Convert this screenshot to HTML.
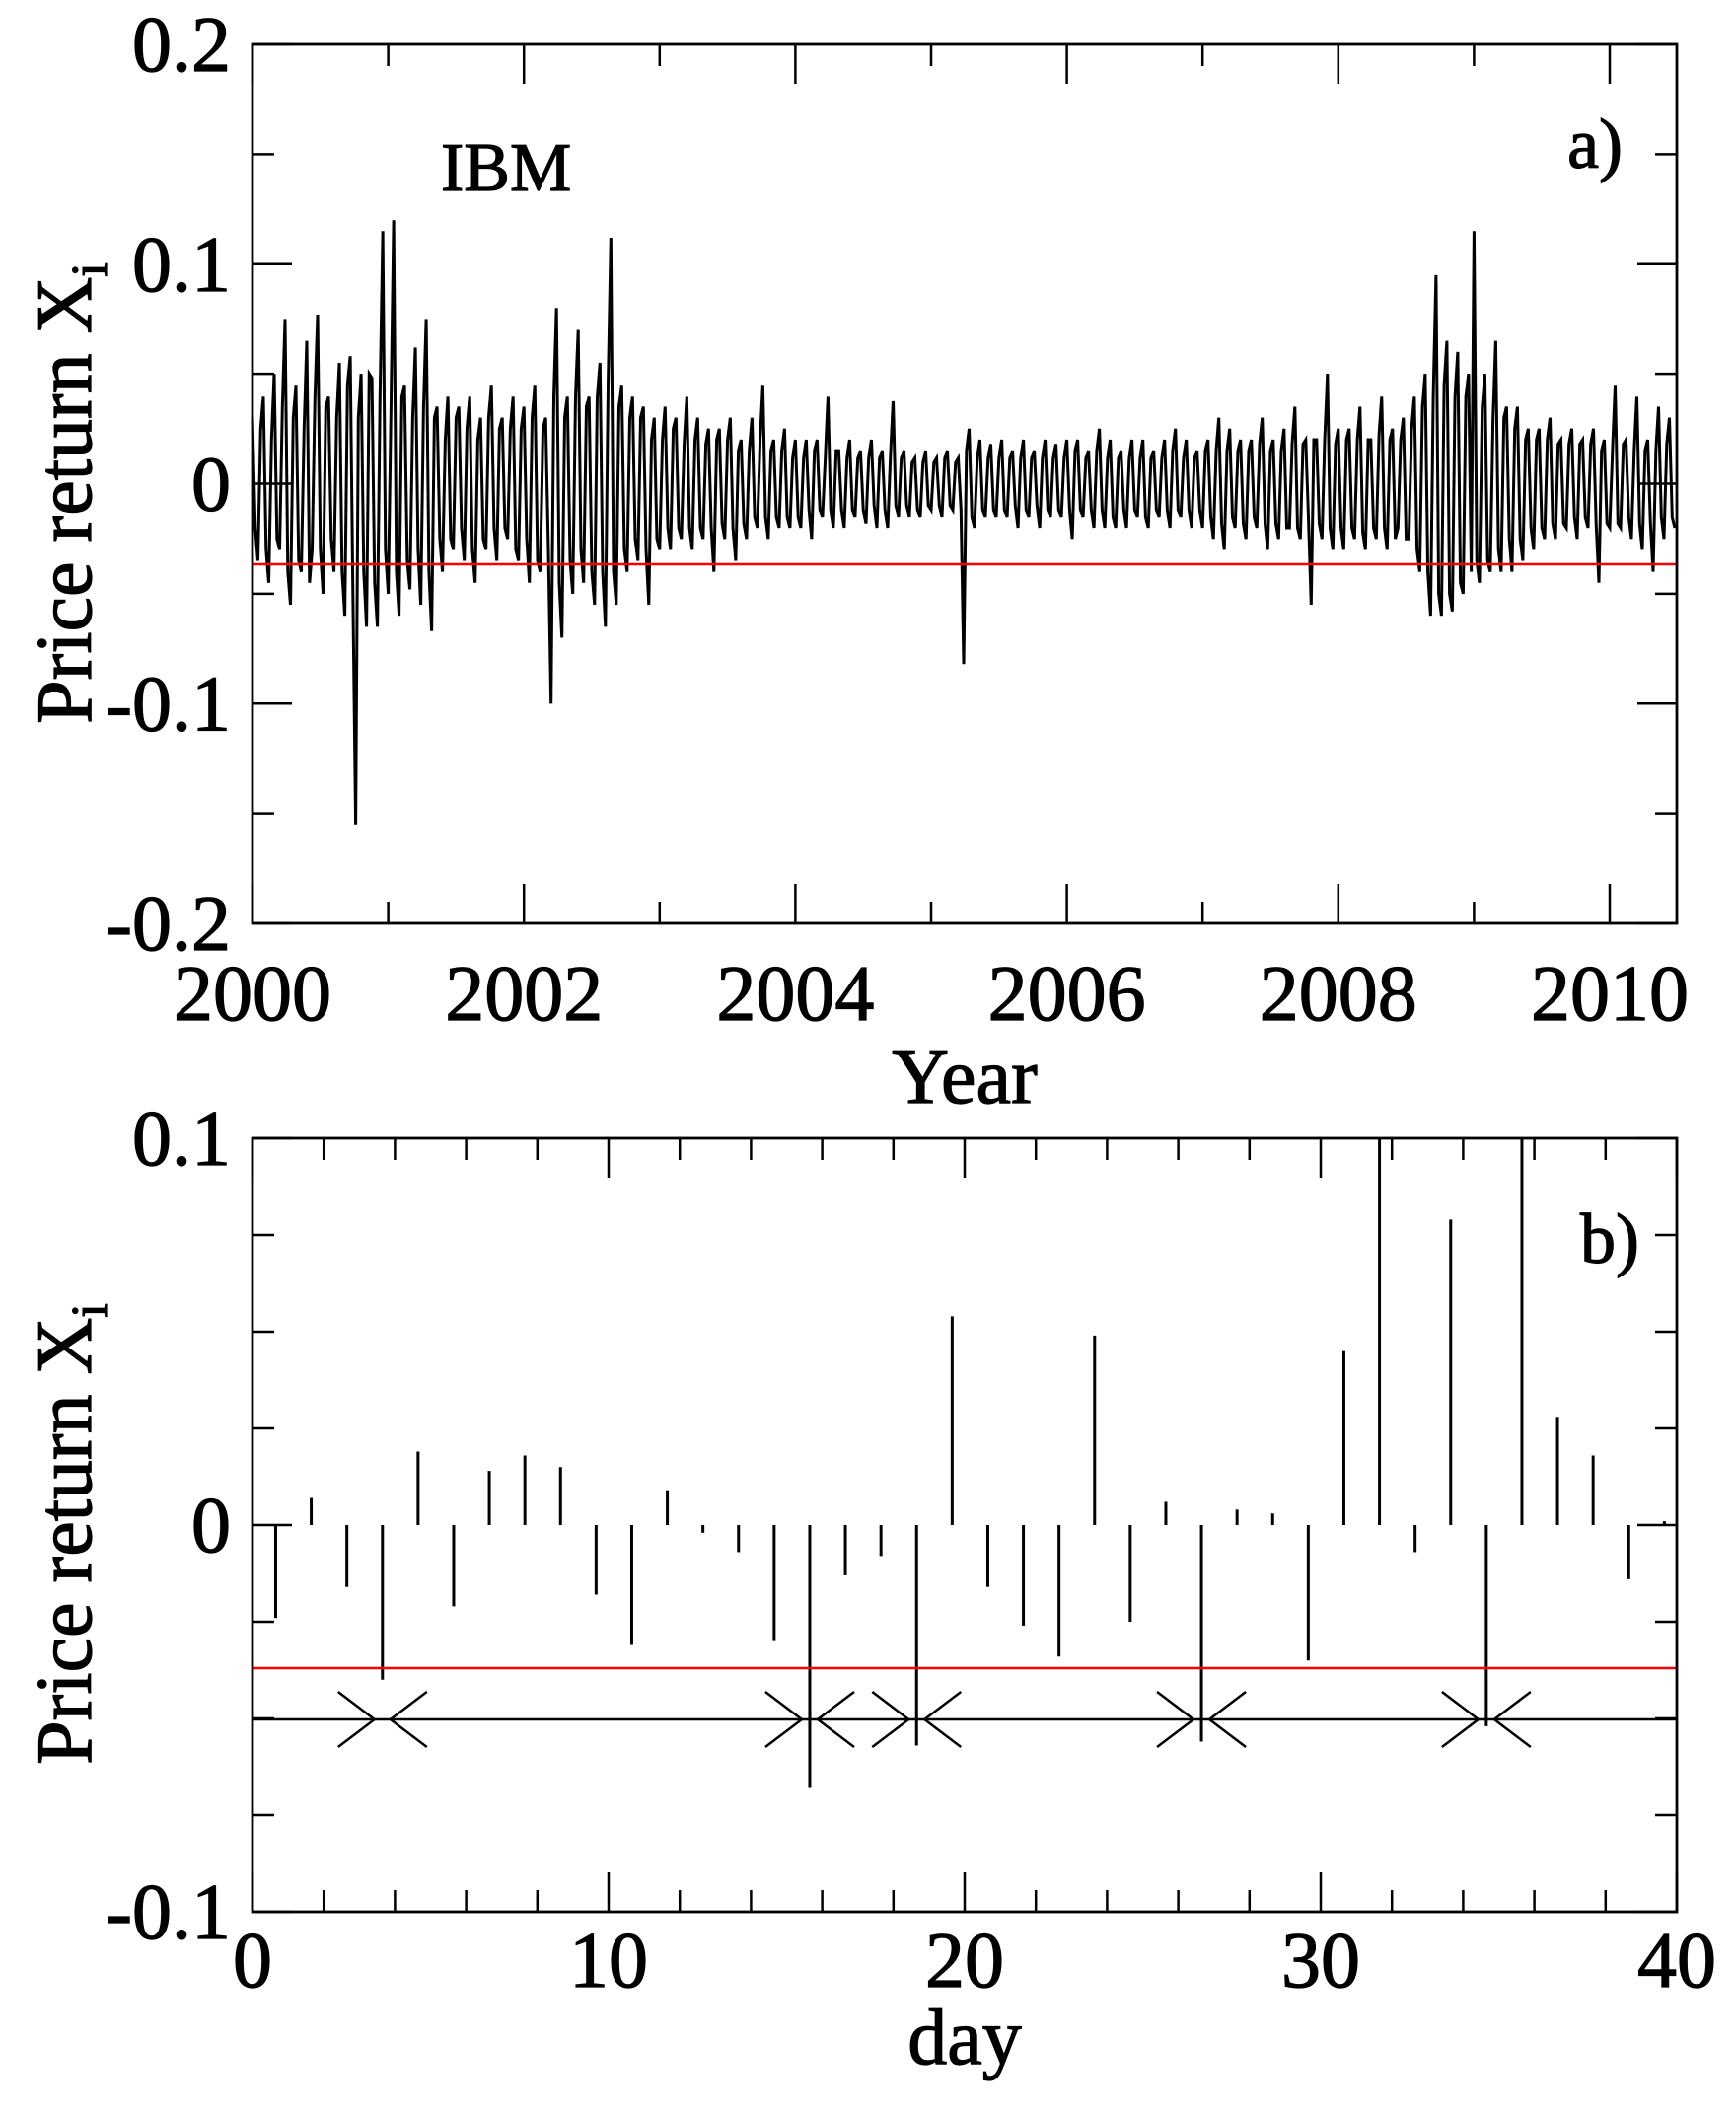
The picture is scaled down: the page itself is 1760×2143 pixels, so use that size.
<!DOCTYPE html>
<html><head><meta charset="utf-8"><style>
html,body{margin:0;padding:0;background:#fff}
svg{display:block}
text{font-family:"Liberation Serif",serif;fill:#000;stroke:#000;stroke-width:1.2}
</style></head><body>
<svg id="chart" width="1760" height="2143" viewBox="0 0 1760 2143" xmlns="http://www.w3.org/2000/svg">
<g id="pa"></g>
<g id="pb"></g>
</svg>
<script>
// Panel a data: IBM price returns; main samples every 0.04 year, plus intermediate samples between them
const aStartYear = 2000;
const aStepYear = 0.04;
const aReturns = [
0.03,-0.035,0.04,-0.045,0.05,-0.03,0.075,-0.055,0.045,-0.04,0.065,-0.03,0.077,-0.05,0.04,-0.04,0.055,-0.06,0.058,-0.155,0.05,-0.065,0.048,-0.065,0.115,
-0.05,0.12,-0.06,0.045,-0.048,0.062,-0.055,0.075,-0.067,0.035,-0.04,0.04,-0.03,0.035,-0.035,0.04,-0.045,0.03,-0.03,0.045,-0.035,0.03,-0.025,0.04,-0.035,
0.035,-0.045,0.045,-0.04,0.03,-0.1,0.08,-0.07,0.04,-0.05,0.07,-0.045,0.04,-0.055,0.055,-0.065,0.112,-0.055,0.045,-0.04,0.04,-0.035,0.035,-0.055,0.03,
-0.03,0.035,-0.03,0.03,-0.025,0.04,-0.03,0.03,-0.025,0.025,-0.04,0.025,-0.025,0.03,-0.035,0.02,-0.025,0.03,-0.02,0.045,-0.025,0.02,-0.02,0.025,-0.02,
0.02,-0.02,0.02,-0.025,0.02,-0.015,0.04,-0.02,0.015,-0.02,0.02,-0.015,0.015,-0.018,0.02,-0.02,0.015,-0.02,0.038,-0.015,0.015,-0.015,0.012,-0.015,0.015,
-0.012,0.012,-0.015,0.015,-0.012,0.012,-0.082,0.025,-0.02,0.02,-0.015,0.018,-0.015,0.02,-0.015,0.015,-0.02,0.02,-0.015,0.015,-0.02,0.02,-0.015,0.018,-0.015,
0.02,-0.025,0.02,-0.015,0.015,-0.02,0.025,-0.02,0.02,-0.02,0.015,-0.02,0.02,-0.015,0.02,-0.02,0.015,-0.015,0.02,-0.02,0.025,-0.015,0.02,-0.02,0.015,
-0.02,0.02,-0.025,0.03,-0.03,0.025,-0.02,0.02,-0.025,0.02,-0.02,0.03,-0.03,0.02,-0.025,0.025,-0.02,0.035,-0.025,0.02,-0.055,0.02,-0.025,0.05,-0.03,
0.025,-0.03,0.025,-0.025,0.035,-0.03,0.02,-0.025,0.04,-0.03,0.025,-0.02,0.03,-0.025,0.04,-0.04,0.05,-0.06,0.095,-0.06,0.065,-0.058,0.06,-0.05,0.05,
0.115,-0.045,0.05,-0.04,0.065,-0.04,0.035,-0.04,0.035,-0.035,0.025,-0.03,0.025,-0.025,0.03,-0.025,0.02,-0.02,0.025,-0.025,0.02,-0.02,0.025,-0.045,0.02,
-0.02,0.045,-0.02,0.02,-0.025,0.04,-0.03,0.02,-0.04,0.035,-0.025,0.03,-0.02
];
const aReturnsMid = [
-0.02,0.025,-0.03,0.02,-0.025,0.035,-0.04,0.03,-0.035,0.025,-0.045,0.04,-0.03,0.035,-0.025,0.03,-0.04,0.045,-0.05,0.03,-0.04,0.05,-0.045,0.04,-0.03,
0.035,-0.04,0.04,-0.035,0.03,-0.03,0.035,-0.04,0.03,-0.025,0.02,-0.025,0.03,-0.02,0.025,-0.03,0.02,-0.025,0.03,-0.02,0.025,-0.02,0.025,-0.03,0.025,
-0.025,0.03,-0.035,0.025,-0.03,0.04,-0.045,0.03,-0.035,0.04,-0.03,0.035,-0.04,0.04,-0.04,0.045,-0.04,0.035,-0.03,0.03,-0.025,0.03,-0.03,0.02,-0.025,
0.02,-0.02,0.025,-0.02,0.018,-0.02,0.02,-0.02,0.018,-0.02,0.02,-0.018,0.02,-0.02,0.015,-0.018,0.015,-0.015,0.02,-0.015,0.015,-0.015,0.015,-0.015,0.012,
-0.015,0.012,-0.012,0.015,-0.012,0.012,-0.012,0.015,-0.012,0.012,-0.012,0.012,-0.012,0.012,-0.01,0.012,-0.012,0.012,-0.01,0.012,-0.01,0.01,-0.012,0.01,-0.01,
0.01,-0.01,0.012,-0.01,0.01,-0.012,0.015,-0.015,0.012,-0.012,0.012,-0.012,0.012,-0.012,0.012,-0.01,0.012,-0.012,0.012,-0.01,0.012,-0.012,0.012,-0.012,0.012,
-0.012,0.015,-0.012,0.012,-0.012,0.015,-0.012,0.012,-0.015,0.012,-0.012,0.012,-0.012,0.012,-0.015,0.012,-0.012,0.012,-0.012,0.015,-0.012,0.012,-0.012,0.012,-0.012,
0.015,-0.015,0.015,-0.018,0.015,-0.015,0.015,-0.018,0.015,-0.015,0.018,-0.018,0.015,-0.018,0.015,-0.02,0.018,-0.02,0.018,-0.015,0.02,-0.018,0.02,-0.02,0.018,
-0.02,0.02,-0.02,0.02,-0.022,0.02,-0.02,0.022,-0.02,0.02,-0.025,0.02,-0.025,0.025,-0.03,0.035,-0.04,0.04,-0.05,0.045,-0.05,0.04,-0.045,0.04,-0.04,
-0.035,0.035,-0.035,0.03,-0.03,0.03,-0.025,0.025,-0.025,0.02,-0.02,0.02,-0.02,0.02,-0.018,0.018,-0.018,0.018,-0.015,0.018,-0.015,0.018,-0.018,0.015,-0.018,
0.015,-0.018,0.018,-0.015,0.015,-0.018,0.015,-0.018,0.015,-0.015,0.018,-0.015,0.015
];
const aThreshold = [-0.0366];
const aXTicks = ["2000","2002","2004","2006","2008","2010"];
const aYTicks = ["-0.2","-0.1","0","0.1","0.2"];

// Panel b data: daily returns for days 1..40
const bDays = [1,2,3,4,5,6,7,8,9,10,11,12,13,14,15,16,17,18,19,20,21,22,23,24,25,26,27,28,29,30,31,32,33,34,35,36,37,38,39,40];
const bReturns = [-0.024,0.007,-0.016,-0.040,0.019,-0.021,0.014,0.018,0.015,-0.018,-0.031,0.009,-0.002,-0.007,-0.030,-0.068,-0.013,-0.008,-0.057,0.054,-0.016,-0.026,-0.034,0.049,-0.025,0.006,-0.056,0.004,0.003,-0.035,0.045,0.12,-0.007,0.079,-0.052,0.12,0.028,0.018,-0.014,0.001];
const bThreshold = [-0.037];
const bXTicks = ["0","10","20","30","40"];
const bYTicks = ["-0.1","0","0.1"];

const NS="http://www.w3.org/2000/svg";
function mk(parent,tag,attrs,txt){const e=document.createElementNS(NS,tag);for(const k in attrs)e.setAttribute(k,attrs[k]);if(txt!==undefined)e.textContent=txt;parent.appendChild(e);return e;}

// ---------- Panel a ----------
const pa=document.getElementById('pa');
const aL=256,aR=1700,aT=45,aB=936;
const ax=y=>aL+(y-2000)*(1632-256)/10;
const ay=v=>aT+(0.2-v)*(aB-aT)/0.4;
const pts=[];
aReturns.forEach((v,i)=>{
  pts.push([aStartYear+i*aStepYear,v]);
  if(i<aReturnsMid.length && i<aReturns.length-1) pts.push([aStartYear+(i+0.5)*aStepYear,aReturnsMid[i]]);
});
let d="";
pts.forEach((p,i)=>{d+=(i?"L":"M")+ax(p[0]).toFixed(1)+" "+ay(p[1]).toFixed(1);});
const aLine=mk(pa,'path',{d:d,fill:'none',stroke:'#000','stroke-width':3,'stroke-linejoin':'miter'});


const aRed=mk(pa,'line',{x1:aL,x2:aR,y1:ay(aThreshold[0]),y2:ay(aThreshold[0]),stroke:'#f00','stroke-width':2.5});


for(let yr=2000;yr<=2010;yr++){
  const len=(yr%2===0)?40:22,x=ax(yr);
  const t=mk(pa,'path',{d:`M${x} ${aB}V${aB-len}M${x} ${aT}V${aT+len}`,stroke:'#000','stroke-width':2.5});
  
  
}
aXTicks.forEach(s=>{
  const t=mk(pa,'text',{x:ax(+s),y:1034,'font-size':80,'text-anchor':'middle'},s);
  
  
});
for(let k=-4;k<=4;k++){
  const v=k*0.05,len=(k%2===0)?40:22,y=ay(v);
  const t=mk(pa,'path',{d:`M${aL} ${y}H${aL+len}M${aR} ${y}H${aR-len}`,stroke:'#000','stroke-width':2.5});
  
  
}
aYTicks.forEach(s=>{
  const t=mk(pa,'text',{x:234,y:ay(+s)+27,'font-size':80,'text-anchor':'end'},s);
  
  
});
const aF=mk(pa,'rect',{x:aL,y:aT,width:aR-aL,height:aB-aT,fill:'none',stroke:'#000','stroke-width':2.8});



// ---------- Panel b ----------
const pb=document.getElementById('pb');
const bL=256,bR=1700,bT=1154,bB=1938;
const bx=dd=>bL+dd*(bR-bL)/40;
const by=v=>bT+(0.1-v)*(bB-bT)/0.2;
const by0=by(0);
bDays.forEach((dd,i)=>{
  const v=Math.max(-0.1,Math.min(0.1,bReturns[i]));
  const x=bx(dd-0.35);
  const b=mk(pb,'line',{x1:x,x2:x,y1:by0,y2:by(v),stroke:'#000','stroke-width':3});
  
  
});
const bRed=mk(pb,'line',{x1:bL,x2:bR,y1:by(bThreshold[0]),y2:by(bThreshold[0]),stroke:'#f00','stroke-width':2.5});


const ay2=1743;
const arrL=mk(pb,'line',{x1:bL,x2:bR,y1:ay2,y2:ay2,stroke:'#000','stroke-width':2.5});


bDays.forEach((dd,i)=>{
  if(bReturns[i]<bThreshold[0]){
    const x=bx(dd-0.35);
    const h=mk(pb,'path',{d:`M${x-45} ${ay2-28}L${x-8} ${ay2}L${x-45} ${ay2+28}M${x+45} ${ay2-28}L${x+8} ${ay2}L${x+45} ${ay2+28}`,fill:'none',stroke:'#000','stroke-width':2.5});
    
    
  }
});
for(let k=0;k<=20;k++){
  const dd=k*2,len=(k%5===0)?40:22,x=bx(dd);
  const t=mk(pb,'path',{d:`M${x} ${bB}V${bB-len}M${x} ${bT}V${bT+len}`,stroke:'#000','stroke-width':2.5});
  
  
}
bXTicks.forEach(s=>{
  const t=mk(pb,'text',{x:bx(+s),y:2014,'font-size':80,'text-anchor':'middle'},s);
  
  
});
for(let k=-4;k<=4;k++){
  const v=k*0.025,len=(k%4===0)?40:22,y=by(v);
  const t=mk(pb,'path',{d:`M${bL} ${y}H${bL+len}M${bR} ${y}H${bR-len}`,stroke:'#000','stroke-width':2.5});
  
  
}
bYTicks.forEach(s=>{
  const t=mk(pb,'text',{x:234,y:by(+s)+27,'font-size':80,'text-anchor':'end'},s);
  
  
});
const bF=mk(pb,'rect',{x:bL,y:bT,width:bR-bL,height:bB-bT,fill:'none',stroke:'#000','stroke-width':2.8});


</script>
<svg style="position:absolute;left:0;top:0" width="1760" height="2143" xmlns="http://www.w3.org/2000/svg">
<text x="447" y="193" font-size="70">IBM</text>
<text x="1645" y="170" font-size="72" text-anchor="end">a)</text>
<text x="978" y="1118" font-size="80" text-anchor="middle">Year</text>
<text transform="translate(92,500) rotate(-90)" font-size="80" text-anchor="middle">Price return X<tspan font-size="52" dy="16">i</tspan></text>
<text x="1662" y="1280" font-size="72" text-anchor="end">b)</text>
<text x="978" y="2092" font-size="80" text-anchor="middle">day</text>
<text transform="translate(92,1555) rotate(-90)" font-size="80" text-anchor="middle">Price return X<tspan font-size="52" dy="16">i</tspan></text>
</svg>
</body></html>
